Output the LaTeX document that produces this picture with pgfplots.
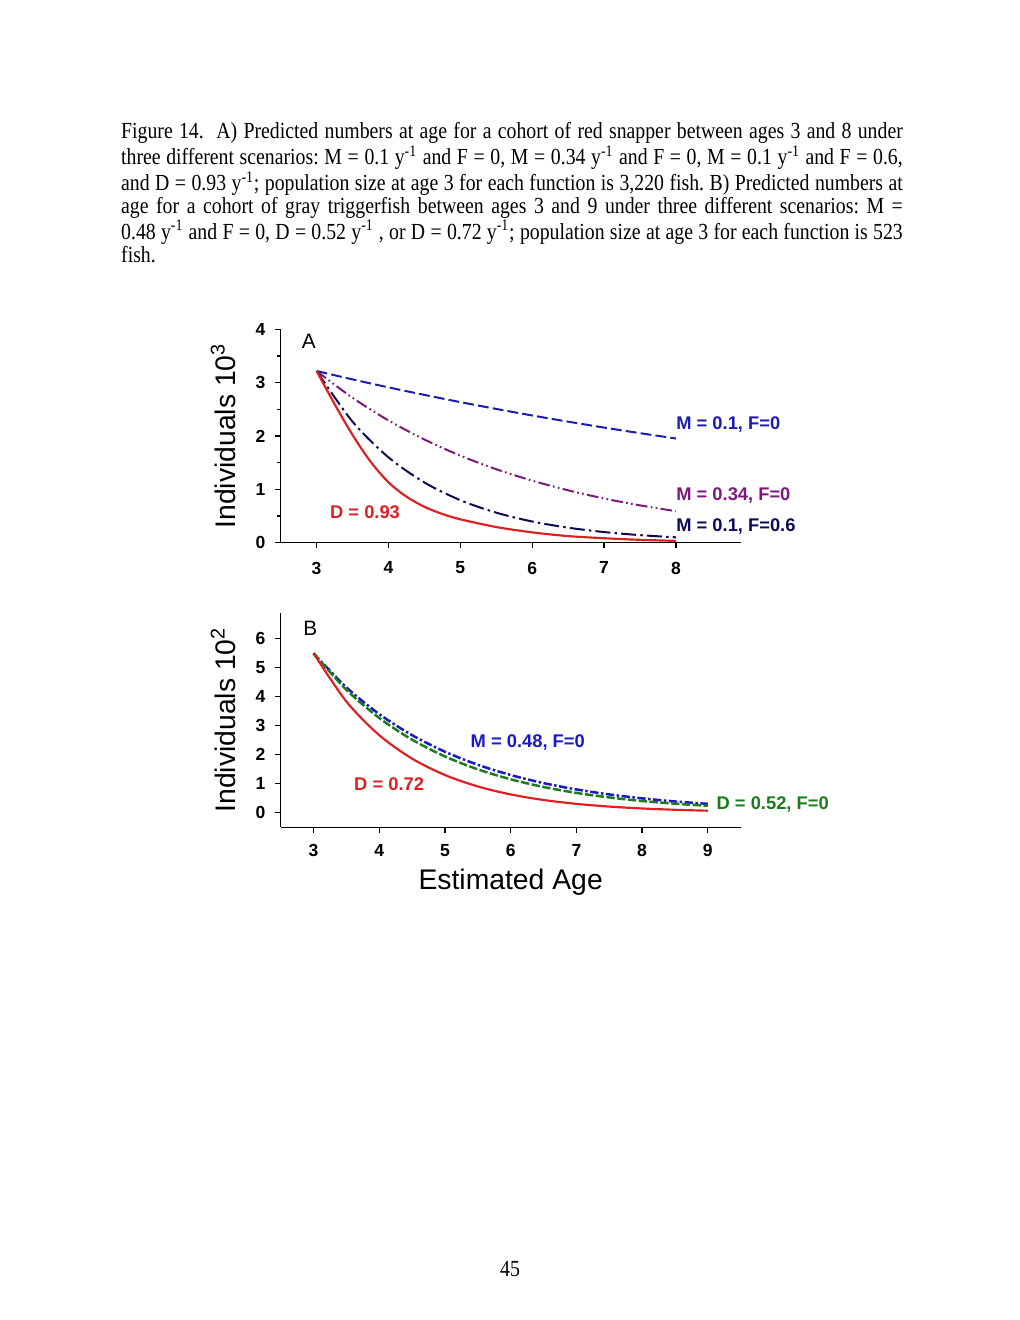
\documentclass[border=0pt]{standalone}
\usepackage{fontspec}
\usepackage{pgfplots}
\pgfplotsset{compat=1.18}
\setmainfont{Liberation Sans}
\newfontfamily\capfont[FakeStretch=0.86]{Liberation Serif}
\definecolor{cblue}{RGB}{28,28,178}
\definecolor{cpurple}{RGB}{125,25,125}
\definecolor{cnavy}{RGB}{12,12,85}
\definecolor{cred}{RGB}{222,32,32}
\definecolor{cgreen}{RGB}{28,125,28}
\definecolor{cblueB}{RGB}{25,25,200}
\newcommand{\tickfont}{\bfseries\fontsize{10.5}{12}\selectfont}
\newcommand{\curvefont}{\bfseries\fontsize{11}{13}\selectfont}
\newcommand{\bigfont}{\fontsize{17}{20}\selectfont}
\pgfplotsset{
  figstyle/.style={
    scale only axis, width=276pt,
    axis x line=bottom, axis y line=left,
    axis line style={-, line width=0.8pt, black},
    tick align=outside,
    every tick/.style={black, line width=0.8pt},
    major tick length=3.3pt, minor tick length=2pt,
    ticklabel style={font=\tickfont},
    yticklabel style={xshift=-2.4pt},
    /pgf/number format/assume math mode=true,
    clip=false,
    ylabel style={at={(rel axis cs:-0.125,0.5)}, anchor=center, font=\bigfont},
  }
}
\begin{document}
\begin{tikzpicture}[x=1pt,y=1pt]
\useasboundingbox (0,0) rectangle (612,792);
\fill[white] (0,0) rectangle (612,792);
\node[anchor=base west, inner sep=0pt, text width=469pt, align=justify, font=\capfont\fontsize{13.8}{13.6}\selectfont] at (72.5,708.6)
{\frenchspacing Figure 14.\ \ A) Predicted numbers at age for a cohort of red snapper between ages 3 and 8 under\linebreak
three different scenarios: M = 0.1 y\textsuperscript{-1} and F = 0, M = 0.34 y\textsuperscript{-1} and F = 0, M = 0.1 y\textsuperscript{-1} and F = 0.6,\linebreak
and D = 0.93 y\textsuperscript{-1}; population size at age 3 for each function is 3,220 fish. B) Predicted numbers at\linebreak
age for a cohort of gray triggerfish between ages 3 and 9 under three different scenarios: M =\linebreak
0.48 y\textsuperscript{-1} and F = 0, D = 0.52 y\textsuperscript{-1} , or D = 0.72 y\textsuperscript{-1}; population size at age 3 for each function is 523\linebreak
fish.};
\node[anchor=base, inner sep=0pt, font=\capfont\fontsize{13.8}{14}\selectfont] at (306,25.8) {45};

% Panel A
\begin{axis}[figstyle, at={(168.4pt,466.5pt)}, anchor=south west, height=127.8pt,
  xmin=2.5, xmax=8.9, ymin=0, ymax=4,
  xtick={3,4,5,6,7,8}, ytick={0,1,2,3,4},
  minor ytick={0.5,1.5,2.5,3.5},
  xticklabel style={yshift=-4.8pt},
  ylabel={Individuals 10\textsuperscript{3}}]
\addplot[cblue, line width=1.2pt, smooth, dash pattern=on 6.5pt off 2.5pt] coordinates {
(3,3.220)(3.5,3.063)(4,2.913)(4.5,2.772)(5,2.636)(5.5,2.508)(6,2.385)(6.5,2.269)(7,2.158)(7.5,2.053)(8,1.953)};
\addplot[cpurple, line width=1.2pt, smooth, dash pattern=on 7pt off 2pt on 1pt off 2pt on 1pt off 2pt] coordinates {
(3,3.220)(3.5,2.717)(4,2.292)(4.5,1.934)(5,1.631)(5.5,1.376)(6,1.161)(6.5,0.980)(7,0.826)(7.5,0.697)(8,0.588)};
\addplot[cnavy, line width=1.2pt, smooth, dash pattern=on 9pt off 2.5pt on 1.5pt off 2.5pt] coordinates {
(3,3.220)(3.5,2.269)(4,1.599)(4.5,1.127)(5,0.794)(5.5,0.560)(6,0.394)(6.5,0.278)(7,0.196)(7.5,0.138)(8,0.097)};
\addplot[cred, line width=1.3pt, smooth] coordinates {
(3,3.22)(3.25,2.60)(3.5,2.02)(3.75,1.52)(4,1.13)(4.25,0.86)(4.5,0.67)(4.75,0.535)(5,0.435)(5.5,0.29)(6,0.19)(6.5,0.12)(7,0.08)(7.5,0.05)(8,0.03)};
\node[font=\fontsize{12.5}{14}\selectfont] at (axis cs:2.89,3.775) {A};
\node[anchor=west, inner sep=0pt, text=cblue, font=\curvefont] at (axis cs:8.0,2.207) {M = 0.1, F=0};
\node[anchor=west, inner sep=0pt, text=cpurple, font=\curvefont] at (axis cs:8.0,0.873) {M = 0.34, F=0};
\node[anchor=west, inner sep=0pt, text=cnavy, font=\curvefont] at (axis cs:8.0,0.297) {M = 0.1, F=0.6};
\node[text=cred, font=\curvefont] at (axis cs:3.674,0.567) {D = 0.93};
\end{axis}

% Panel B
\begin{axis}[figstyle, at={(168.4pt,295.6pt)}, anchor=south west, height=128.8pt,
  xmin=2.5, xmax=9.5, ymin=-0.5, ymax=6.9,
  xtick={3,4,5,6,7,8,9}, ytick={0,1,2,3,4,5,6},
  xticklabel style={yshift=-3.3pt},
  ylabel={Individuals 10\textsuperscript{2}},
  xlabel={Estimated Age},
  xlabel style={at={(rel axis cs:0.5,-0.255)}, anchor=center, font=\bigfont}]
\addplot[cblueB, line width=1.5pt, smooth, dash pattern=on 5pt off 1.5pt on 1.5pt off 1.5pt] coordinates {
(3,5.500)(3.5,4.326)(4,3.403)(4.5,2.677)(5,2.106)(5.5,1.657)(6,1.303)(6.5,1.025)(7,0.806)(7.5,0.634)(8,0.499)(8.5,0.392)(9,0.309)};
\addplot[cgreen, line width=1.5pt, smooth, dash pattern=on 5pt off 1.5pt] coordinates {
(3,5.500)(3.5,4.241)(4,3.270)(4.5,2.521)(5,1.944)(5.5,1.499)(6,1.156)(6.5,0.891)(7,0.687)(7.5,0.530)(8,0.408)(8.5,0.315)(9,0.243)};
\addplot[cred, line width=1.3pt, smooth] coordinates {
(3,5.500)(3.5,3.837)(4,2.677)(4.5,1.868)(5,1.303)(5.5,0.909)(6,0.634)(6.5,0.443)(7,0.309)(7.5,0.215)(8,0.150)(8.5,0.105)(9,0.073)};
\node[font=\fontsize{12.5}{14}\selectfont] at (axis cs:2.95,6.37) {B};
\node[text=cblueB, font=\curvefont] at (axis cs:6.26,2.44) {M = 0.48, F=0};
\node[text=cred, font=\curvefont] at (axis cs:4.15,1.0) {D = 0.72};
\node[anchor=west, inner sep=0pt, text=cgreen, font=\curvefont] at (axis cs:9.13,0.29) {D = 0.52, F=0};
\end{axis}
\end{tikzpicture}
\end{document}
